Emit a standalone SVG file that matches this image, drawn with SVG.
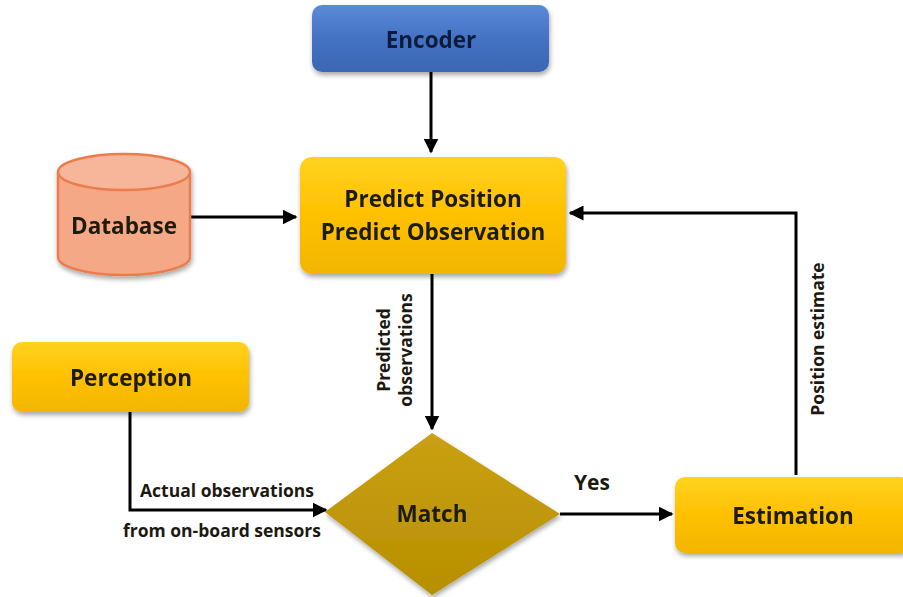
<svg xmlns="http://www.w3.org/2000/svg" width="903" height="597" viewBox="0 0 903 597">
  <defs>
    <linearGradient id="gold" x1="0" y1="0" x2="0" y2="1">
      <stop offset="0" stop-color="#FFD21F"/>
      <stop offset="0.5" stop-color="#FFC000"/>
      <stop offset="1" stop-color="#F2B600"/>
    </linearGradient>
    <linearGradient id="blue" x1="0" y1="0" x2="0" y2="1">
      <stop offset="0" stop-color="#5B8AD8"/>
      <stop offset="0.5" stop-color="#4472C4"/>
      <stop offset="1" stop-color="#3C66B3"/>
    </linearGradient>
    <linearGradient id="diamond" x1="0" y1="0" x2="0" y2="1">
      <stop offset="0" stop-color="#C9A013"/>
      <stop offset="1" stop-color="#B88F00"/>
    </linearGradient>
    <filter id="shadow" x="-10%" y="-10%" width="120%" height="130%">
      <feGaussianBlur in="SourceAlpha" stdDeviation="2.5"/>
      <feOffset dx="1" dy="3" result="b"/>
      <feComponentTransfer><feFuncA type="linear" slope="0.35"/></feComponentTransfer>
      <feMerge><feMergeNode/><feMergeNode in="SourceGraphic"/></feMerge>
    </filter>
    <marker id="arrow" viewBox="0 0 10 10" refX="9" refY="5" markerWidth="5" markerHeight="5" orient="auto" markerUnits="strokeWidth">
      <path d="M0,0 L10,5 L0,10 z" fill="#000"/>
    </marker>
    <style>
      .lbl { font-family: "Open Sans", Lato, "Liberation Sans", sans-serif; font-weight: bold; fill: #1c1a10; }
      .node { font-size: 22.5px; text-anchor: middle; }
      .edge { font-size: 17.5px; }
      .conn { fill: none; stroke: #000; stroke-width: 3; }
    </style>
  </defs>

  <rect width="903" height="597" fill="#fff"/>

  <g id="connectors">
    <path class="conn" d="M431,72 V152" marker-end="url(#arrow)"/>
    <path class="conn" d="M190,217 H296" marker-end="url(#arrow)"/>
    <path class="conn" d="M432,274 V429" marker-end="url(#arrow)"/>
    <path class="conn" d="M130,412 V510 H326" marker-end="url(#arrow)"/>
    <path class="conn" d="M560,514 H672" marker-end="url(#arrow)"/>
    <path class="conn" d="M796,475 V213 H570" marker-end="url(#arrow)"/>
    <text class="lbl edge" x="140" y="497">Actual observations</text>
    <text class="lbl edge" x="123" y="537">from on-board sensors</text>
    <text class="lbl" x="574" y="490" font-size="21">Yes</text>
    <text class="lbl edge" text-anchor="middle" transform="translate(390,350) rotate(-90)">Predicted</text>
    <text class="lbl edge" text-anchor="middle" transform="translate(412,350) rotate(-90)">observations</text>
    <text class="lbl edge" text-anchor="middle" transform="translate(824,339) rotate(-90)">Position estimate</text>
  </g>

  <g id="encoder" filter="url(#shadow)">
    <rect x="312" y="5" width="237" height="67" rx="10" fill="url(#blue)"/>
    <text class="lbl node" x="431" y="48" style="fill:#0f1f3d">Encoder</text>
  </g>

  <g id="predict" filter="url(#shadow)">
    <rect x="300" y="157" width="266" height="117" rx="12" fill="url(#gold)"/>
    <text class="lbl node" x="433" y="207">Predict Position</text>
    <text class="lbl node" x="433" y="240">Predict Observation</text>
  </g>

  <g id="database" filter="url(#shadow)">
    <path d="M58,172 V257 A66,18 0 0 0 190,257 V172" fill="#F5A886" stroke="#EB7D4E" stroke-width="2.5"/>
    <ellipse cx="124" cy="172" rx="66" ry="18" fill="#F7B699" stroke="#EB7D4E" stroke-width="2.5"/>
    <text class="lbl node" x="124" y="234">Database</text>
  </g>

  <g id="perception" filter="url(#shadow)">
    <rect x="12" y="342" width="237" height="70" rx="10" fill="url(#gold)"/>
    <text class="lbl node" x="131" y="386">Perception</text>
  </g>

  <g id="match" filter="url(#shadow)">
    <polygon points="432,433 560,514 432,595 325,512" fill="url(#diamond)"/>
    <text class="lbl node" x="432" y="522">Match</text>
  </g>

  <g id="estimation" filter="url(#shadow)">
    <rect x="675" y="477" width="236" height="76" rx="10" fill="url(#gold)"/>
    <text class="lbl node" x="793" y="524">Estimation</text>
  </g>
</svg>
